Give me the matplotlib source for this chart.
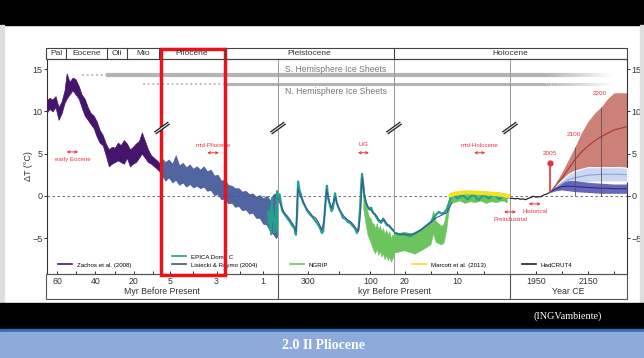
import numpy as np
import matplotlib.pyplot as plt
from matplotlib.patches import Rectangle
from matplotlib.lines import Line2D
from matplotlib.collections import LineCollection

plt.rcParams['font.family'] = ['Liberation Sans', 'DejaVu Sans']

W, H = 644, 358

# ---- data ---------------------------------------------------------------
# Zachos et al. (2008): age (Myr BP), lower / upper envelope (deg C)
zachos_age = [65.5, 63.9, 62.4, 60.8, 59.2, 57.6, 56.1, 55.0, 53.5, 51.9,
              50.3, 48.7, 47.2, 45.6, 44.0, 42.5, 40.9, 39.3, 37.8, 36.2,
              34.6, 33.0, 31.5, 29.9, 28.3, 26.8, 25.2, 23.6, 22.0, 20.5,
              18.9, 17.3, 15.8, 14.2, 12.6, 11.0, 9.5, 7.9, 6.3, 5.3]
zachos_lo = [9.8, 10.3, 10.0, 10.5, 9.0, 9.8, 11.0, 11.5, 12.0, 12.5,
             12.0, 11.5, 10.5, 9.5, 9.0, 8.5, 8.0, 7.0, 6.3, 6.0,
             4.8, 3.5, 3.8, 4.0, 4.2, 4.0, 3.8, 4.5, 3.5, 3.8,
             4.0, 4.5, 5.0, 4.5, 4.0, 3.8, 3.5, 3.2, 2.8, 3.0]
zachos_hi = [11.3, 11.6, 11.4, 11.8, 10.5, 11.2, 12.5, 14.5, 13.5, 14.0,
             13.8, 13.0, 12.0, 11.5, 10.5, 9.8, 9.5, 8.8, 7.8, 7.2,
             6.2, 5.5, 5.8, 5.7, 6.3, 6.0, 6.6, 6.2, 5.5, 5.8,
             6.2, 6.5, 7.5, 6.5, 5.5, 4.8, 4.5, 4.2, 3.8, 3.8]

# Lisiecki & Raymo (2004): Myr BP envelope, then last 400 kyr
lr04_age = [5.33, 5.2, 5.05, 4.9, 4.75, 4.6, 4.45, 4.3, 4.15, 4.0,
            3.85, 3.7, 3.55, 3.4, 3.25, 3.1, 2.95, 2.8, 2.65, 2.5,
            2.35, 2.2, 2.05, 1.9, 1.75, 1.6, 1.45, 1.3, 1.15, 1.0,
            0.85, 0.7, 0.55, 0.45, 0.36]
lr04_lo = [2.4, 1.8, 2.2, 1.6, 1.9, 1.3, 1.6, 1.1, 1.4, 1.0,
           1.2, 0.9, 1.1, 0.6, 0.7, 0.1, 0.2, -0.4, -0.3, -0.9,
           -0.8, -1.3, -1.2, -1.7, -1.6, -2.1, -2.0, -2.6, -2.6, -3.3,
           -3.4, -4.2, -4.6, -5.0, -4.6]
lr04_hi = [4.4, 4.0, 4.3, 3.8, 4.8, 3.6, 3.9, 3.4, 3.7, 3.2,
           3.5, 3.1, 3.5, 2.9, 3.1, 2.4, 2.5, 1.8, 1.9, 1.3,
           1.2, 0.9, 0.9, 0.5, 0.6, 0.2, 0.3, -0.1, 0.1, -0.3,
           0.0, -0.5, 0.2, 0.3, 0.5]
lr04_kyr = [395, 385, 375, 365, 355, 345, 337, 332, 325, 315,
            305, 295, 285, 275, 265, 255, 248, 240, 232, 225,
            217, 212, 205, 195, 185, 175, 165, 155, 145, 138,
            132, 126, 120, 112, 104, 96, 88, 80, 72, 64,
            56, 48, 40, 32, 25, 22, 20, 18, 16, 14, 12, 11]
lr04_kyr_val = [-0.3, -1.2, -2.0, -2.4, -2.9, -3.5, -4.2, 0.9, 0.0, -0.6,
                -1.5, -1.9, -2.4, -2.6, -3.2, -4.0, -3.0, 0.8, -0.6, -1.4,
                -0.6, -0.1, -1.1, -1.9, -2.4, -2.8, -3.0, -3.4, -3.9, -4.2,
                -2.0, 2.2, 0.2, -1.0, -1.5, -1.8, -2.1, -2.4, -2.9, -3.0,
                -2.8, -3.3, -3.6, -3.9, -4.1, -4.4, -4.6, -4.5, -3.6, -2.6,
                -2.0, -0.8]

# EPICA Dome C (kyr BP)
epica_kyr = [800, 770, 740, 710, 680, 650, 620, 590, 560, 530,
             500, 470, 440, 420, 405, 395, 390, 382, 374, 366,
             358, 350, 343, 338, 334, 331, 326, 322, 315, 309,
             301, 293, 285, 277, 269, 261, 255, 251, 246, 242,
             239, 235, 229, 224, 220, 216, 213, 208, 200, 194,
             188, 180, 172, 164, 156, 150, 143, 138, 133, 130,
             127, 124, 121, 116, 111, 104, 98, 92, 86, 80,
             73, 66, 60, 54, 47, 41, 35, 30, 25, 22,
             21, 20, 19, 18, 17, 16, 15, 14.5, 14.0, 13.5,
             13.0, 12.5, 12.0, 11.6, 11.2, 10.8, 10.0, 9.0, 8.0, 7.0,
             6.0, 5.0, 4.0, 3.0, 2.0, 1.0, 0.2]
epica_val = [-1.8, -3.2, -2.0, -4.0, -1.2, -4.6, -0.2, -3.0, -1.8, -4.4,
             -2.6, -4.0, -1.0, -4.2, 0.6, -0.5, 0.2, -1.7, -2.2, -2.6,
             -3.0, -3.5, -3.8, -4.6, -2.0, 1.7, 0.6, 0.2, -0.8, -1.2,
             -1.8, -2.2, -2.5, -2.9, -3.3, -3.8, -4.4, -4.2, -2.0, 0.0,
             1.2, -0.3, -1.1, -1.8, -1.5, -0.4, 0.3, -0.8, -1.6, -2.0,
             -2.6, -2.7, -3.1, -3.2, -3.6, -3.8, -4.4, -3.8, -1.5, 1.0,
             2.6, 1.6, 0.3, -0.6, -1.2, -1.6, -1.4, -2.0, -2.2, -2.6,
             -3.0, -3.2, -2.7, -3.1, -3.5, -3.5, -3.8, -4.0, -4.2, -4.3,
             -4.6, -4.5, -4.8, -4.4, -4.1, -3.6, -3.1, -2.6, -2.2, -1.9,
             -2.1, -2.0, -1.6, -0.9, -0.2, 0.2, -0.3, 0.1, -0.4, 0.2,
             -0.5, 0.1, -0.3, 0.2, -0.4, 0.1, -0.2]

# NGRIP (kyr BP), envelope
ngrip_kyr = [123, 119, 115, 110, 105, 100, 95, 90, 85, 80,
             75, 70, 65, 60, 55, 50, 45, 40, 35, 30,
             25, 22, 20, 18, 16, 15, 14.5, 14, 13, 12.5,
             12, 11.6, 11.2, 10.5, 9.5, 8.5, 7.5, 6.5, 5.5, 4.5,
             3.5, 2.5, 1.5, 0.5]
ngrip_lo = [-1.5, -2.5, -3.5, -4.5, -5.0, -5.5, -6.0, -6.5, -6.8, -6.2,
            -7.0, -6.5, -7.2, -6.8, -7.5, -7.0, -7.6, -7.2, -7.8, -7.4,
            -7.0, -6.8, -6.5, -6.9, -6.2, -5.8, -4.5, -5.5, -5.8, -5.6,
            -4.0, -2.0, -0.9, -0.8, -0.6, -0.9, -0.7, -0.8, -0.6, -0.9,
            -0.7, -0.8, -0.6, -0.8]
ngrip_hi = [1.5, 0.0, -1.0, -1.8, -2.5, -2.6, -3.2, -3.3, -3.8, -3.2,
            -4.0, -3.5, -4.2, -3.8, -4.5, -4.0, -4.6, -4.2, -5.0, -4.6,
            -4.6, -4.6, -4.3, -4.6, -3.8, -3.2, -1.8, -3.0, -3.6, -3.4,
            -2.0, -0.6, 0.3, 0.4, 0.3, 0.5, 0.2, 0.4, 0.3, 0.5,
            0.2, 0.4, 0.3, 0.2]

# Marcott et al. (2013), kyr BP
marcott_kyr = [11.3, 10.5, 9.5, 8.5, 7.5, 6.5, 5.5, 4.5, 3.5, 2.5, 1.5, 0.5, 0.1]
marcott_val = [0.05, 0.25, 0.35, 0.4, 0.4, 0.38, 0.35, 0.3, 0.25, 0.2, 0.1, 0.0, -0.05]

# HadCRUT4, year CE
hadcrut_year = [1850, 1860, 1870, 1880, 1890, 1900, 1910, 1920, 1930,
                1940, 1950, 1960, 1970, 1980, 1990, 2000, 2005]
hadcrut_val = [-0.3, -0.3, -0.35, -0.3, -0.4, -0.35, -0.45, -0.3, -0.2,
               -0.05, -0.15, -0.1, -0.1, 0.1, 0.2, 0.35, 0.45]

# projections
proj_year = [2005, 2025, 2050, 2075, 2100, 2125, 2150, 2175, 2200, 2225, 2250, 2275, 2300]
rcp85_lo = [0.4, 0.8, 1.3, 2.0, 2.5, 3.0, 3.2, 3.3, 3.4, 3.4, 3.4, 3.4, 3.4]
rcp85_hi = [0.5, 1.5, 2.8, 4.3, 5.8, 7.5, 8.8, 9.8, 10.5, 11.5, 12.2, 12.2, 12.2]
rcp85_mid = [0.45, 1.2, 2.1, 3.2, 4.3, 5.2, 5.9, 6.5, 7.0, 7.4, 7.8, 8.0, 8.2]
rcp45_lo = [0.4, 0.7, 1.0, 1.2, 1.3, 1.5, 1.6, 1.7, 1.7, 1.7, 1.7, 1.7, 1.7]
rcp45_hi = [0.5, 1.2, 1.9, 2.6, 3.0, 3.2, 3.4, 3.4, 3.4, 3.4, 3.4, 3.4, 3.3]
rcp45_mid = [0.45, 0.95, 1.45, 1.9, 2.15, 2.3, 2.45, 2.5, 2.55, 2.55, 2.55, 2.55, 2.5]
rcp26_lo = [0.4, 0.6, 0.7, 0.6, 0.5, 0.45, 0.4, 0.35, 0.3, 0.3, 0.3, 0.3, 0.3]
rcp26_hi = [0.5, 1.1, 1.6, 1.8, 1.8, 1.7, 1.6, 1.55, 1.5, 1.45, 1.4, 1.4, 1.4]
rcp26_mid = [0.45, 0.85, 1.1, 1.15, 1.1, 1.05, 1.0, 0.95, 0.9, 0.9, 0.85, 0.85, 0.85]
stem_year, stem_top = 2005, 3.9

# ice sheets (Myr BP where the bars start)
s_ice_dotted, s_ice_solid, s_ice_level = 47.2, 34.6, 14.3
n_ice_dotted, n_ice_solid, n_ice_level = 15.2, 2.7, 13.2
ice_fade = (1990, 2250)

epochs = ['Pal', 'Eocene', 'Oli', 'Mio', 'Pliocene', 'Pleistocene', 'Holocene']
epoch_px = [46.5, 66, 107, 127, 159, 225, 394, 627]

# ---- colours ------------------------------------------------------------
PURPLE, BLUE, TEAL, GREEN, YELLOW = '#45156b', '#3e5497', '#23a08e', '#6cc45c', '#f5e21f'
RED = '#e8333a'
ICE = '#b4b4b4'

fig = plt.figure(figsize=(W / 100, H / 100), dpi=100)


def frac(x0, y0, x1, y1):
    return [x0 / W, 1 - y1 / H, (x1 - x0) / W, (y1 - y0) / H]


TOP, BOT = 59, 274
edges = [46.5, 162, 278, 394, 510, 627]
xlims = [(65.5, 5.3), (5.34, 0.36), (395, 25), (22, 0), (1850, 2300)]
majors = [[60, 40, 20], [5, 3, 1], [300, 100], [20, 10], [1950, 2150]]
minors = [[50, 30, 10], [4, 2], [200], [15, 5], [2050, 2250]]

axs = []
for i in range(5):
    ax = fig.add_axes(frac(edges[i], TOP, edges[i + 1], BOT))
    ax.set_xlim(*xlims[i])
    ax.set_ylim(-9.25, 16.2)
    ax.set_xticks(majors[i])
    ax.set_xticks(minors[i], minor=True)
    ax.tick_params(axis='x', which='both', direction='in', length=2.5, width=0.7,
                   colors='#333', labelsize=6.3, pad=1.8)
    for s in ('top', 'bottom'):
        ax.spines[s].set_color('#444')
        ax.spines[s].set_linewidth(0.8)
    ax.spines['right'].set_visible(i == 4)
    ax.spines['right'].set_color('#333')
    if i == 0:
        ax.spines['left'].set_color('#333')
    elif i == 1:
        ax.spines['left'].set_visible(False)
    else:
        ax.spines['left'].set_color('#999')
        ax.spines['left'].set_linewidth(0.7)
    ax.axhline(0, color='#555', lw=0.6, ls=(0, (3, 3)), zorder=1)
    axs.append(ax)

ax_a, ax_b, ax_c, ax_d, ax_e = axs
for ax in axs:
    ax.set_yticks([-5, 0, 5, 10, 15])
    ax.tick_params(axis='y', direction='out', length=2, width=0.7, colors='#333',
                   labelsize=6.5, pad=1)
for ax in (ax_b, ax_c, ax_d):
    ax.tick_params(axis='y', left=False, labelleft=False)
ax_e.yaxis.tick_right()

# ice sheets
dot = (0, (1.2, 1.6))
for ax in (ax_a, ax_b):
    ax.plot([s_ice_dotted, s_ice_solid], [s_ice_level] * 2, color=ICE, lw=1.2, ls=dot)
    ax.plot([s_ice_solid, 0], [s_ice_level] * 2, color=ICE, lw=3, solid_capstyle='butt')
    ax.plot([n_ice_dotted, n_ice_solid], [n_ice_level] * 2, color=ICE, lw=1.2, ls=dot)
    ax.plot([n_ice_solid, 0], [n_ice_level] * 2, color=ICE, lw=2.2, solid_capstyle='butt')
for ax in (ax_c, ax_d):
    ax.axhline(s_ice_level, color=ICE, lw=3)
    ax.axhline(n_ice_level, color=ICE, lw=2.2)
ax_e.plot([1850, ice_fade[0]], [s_ice_level] * 2, color=ICE, lw=3, solid_capstyle='butt')
ax_e.plot([1850, ice_fade[0]], [n_ice_level] * 2, color=ICE, lw=2.2, solid_capstyle='butt')
fx = np.linspace(ice_fade[0], ice_fade[1], 41)
alphas = np.linspace(1, 0, 40)
for lvl, lw in ((s_ice_level, 3), (n_ice_level, 2.2)):
    segs = [[(fx[k], lvl), (fx[k + 1], lvl)] for k in range(40)]
    cols = [(0.706, 0.706, 0.706, a) for a in alphas]
    ax_e.add_collection(LineCollection(segs, colors=cols, linewidths=lw))
ax_c.text(373, 15.0, 'S. Hemisphere Ice Sheets', color='#777', fontsize=6.2, va='center')
ax_c.text(373, 12.3, 'N. Hemisphere Ice Sheets', color='#777', fontsize=6.2, va='center')

# records
ax_a.fill_between(zachos_age, zachos_lo, zachos_hi, color=PURPLE, lw=0.5, zorder=3)
ax_b.fill_between(lr04_age, lr04_lo, lr04_hi, color=BLUE, lw=0.5, alpha=0.9, zorder=3)
ax_b.plot(np.array(epica_kyr) / 1000, epica_val, color=TEAL, lw=1.0, zorder=4)
for ax in (ax_c, ax_d):
    ax.fill_between(ngrip_kyr, ngrip_lo, ngrip_hi, color=GREEN, lw=0.4, zorder=3)
    ax.plot(epica_kyr, epica_val, color=TEAL, lw=1.6, zorder=4)
    ax.plot(lr04_kyr, lr04_kyr_val, color=BLUE, lw=0.8, zorder=5)
ax_d.plot(marcott_kyr, marcott_val, color=YELLOW, lw=3, zorder=6, solid_capstyle='round')
ax_e.plot(hadcrut_year, hadcrut_val, color='#222', lw=0.9, zorder=5)

# projections
ax_e.fill_between(proj_year, rcp85_lo, rcp85_hi, color='#c46a60', alpha=0.85, lw=0, zorder=2)
ax_e.fill_between(proj_year, rcp45_lo, rcp45_hi, facecolor='#c9d7f0', edgecolor='white',
                  lw=0.8, zorder=3)
ax_e.fill_between(proj_year, rcp26_lo, rcp26_hi, color='#5656b4', alpha=0.9, lw=0, zorder=4)
ax_e.plot(proj_year, rcp85_mid, color='#a8382e', lw=0.8, zorder=5)
ax_e.plot(proj_year, rcp45_mid, color='#8aa4d6', lw=0.8, zorder=5)
ax_e.plot(proj_year, rcp26_mid, color='#2c2c88', lw=0.8, zorder=5)
for yr in (2100, 2200):
    k = proj_year.index(yr)
    ax_e.vlines(yr, 0, rcp85_hi[k], color='#555', lw=0.6, zorder=6)
ax_e.plot([stem_year, stem_year], [hadcrut_val[-1], stem_top], color=RED, lw=1.2, zorder=7)
ax_e.plot(stem_year, stem_top, 'o', color=RED, ms=3.5, zorder=7)
ax_e.text(stem_year, 5.0, '2005', color=RED, fontsize=4.6, ha='center', va='center')
ax_e.text(2095, 7.3, '2100', color=RED, fontsize=4.6, ha='center', va='center')
ax_e.text(2195, 12.1, '2200', color=RED, fontsize=4.6, ha='center', va='center')

# red period markers


def period(ax, a0, a1, y, label, ty):
    ax.annotate('', xy=(a1, y), xytext=(a0, y), annotation_clip=False,
                arrowprops=dict(arrowstyle='<->', color=RED, lw=0.7,
                                shrinkA=0, shrinkB=0, mutation_scale=4))
    ax.text((a0 + a1) / 2, ty, label, color=RED, fontsize=4.4, ha='center',
            va='center', clip_on=False)


period(ax_a, 55.0, 49.0, 5.2, 'early Eocene', 4.3)
period(ax_b, 3.4, 2.9, 5.1, 'mid-Pliocene', 6.0)
period(ax_c, 140, 105, 5.1, 'LIG', 6.1)
period(ax_d, 6.8, 4.7, 5.1, 'mid-Holocene', 6.0)
period(ax_e, 1827, 1873, -1.9, 'Preindustrial', -2.8)
period(ax_e, 1922, 1968, -0.95, 'Historical', -1.9)

# legends


def legend(ax, entries, fx, fy):
    hs = [Line2D([], [], color=c, lw=1.2) for c, _ in entries]
    ax.legend(hs, [t for _, t in entries], loc='lower left', bbox_to_anchor=(fx, fy),
              frameon=False, fontsize=4.4, handlelength=2.3, handletextpad=0.8,
              borderpad=0, borderaxespad=0, labelspacing=0.45)


legend(ax_a, [(PURPLE, 'Zachos et al. (2008)')], 0.10, 0.03)
legend(ax_b, [(TEAL, 'EPICA Dome C'), (BLUE, 'Lisiecki & Raymo (2004)')], 0.086, 0.03)
legend(ax_c, [(GREEN, 'NGRIP')], 0.10, 0.03)
legend(ax_d, [(YELLOW, 'Marcott et al. (2013)')], 0.155, 0.03)
legend(ax_e, [('#222', 'HadCRUT4')], 0.10, 0.03)

# ---- page furniture -----------------------------------------------------
ov = fig.add_axes([0, 0, 1, 1], zorder=10)
ov.set_xlim(0, W)
ov.set_ylim(H, 0)
ov.axis('off')

ov.add_patch(Rectangle((0, 0), W, 25, color='black'))
ov.add_patch(Rectangle((0, 25), 4, 278, color='#dedede'))
ov.add_patch(Rectangle((640, 25), 4, 278, color='#dedede'))
ov.add_patch(Rectangle((0, 303), W, 26, color='black'))
ov.add_patch(Rectangle((0, 329), W, 3, color='#2f6db5'))
ov.add_patch(Rectangle((0, 332), W, 26, color='#8eaadb'))
ov.text(568, 316, '(INGVambiente)', color='white', fontsize=7.3,
        family='Liberation Serif', ha='center', va='center')
ov.text(324, 345.5, '2.0 Il Pliocene', color='white', fontsize=10, weight='bold',
        family='Liberation Serif', ha='center', va='center')

# epoch header
ov.add_patch(Rectangle((46.5, 48), 580.5, 11, fill=False, ec='#444', lw=0.8))
for k, name in enumerate(epochs):
    if k > 0:
        ov.plot([epoch_px[k]] * 2, [48, 59], color='#444', lw=0.8)
    ov.text((epoch_px[k] + epoch_px[k + 1]) / 2, 53.8, name, fontsize=6,
            color='#333', ha='center', va='center')

# bottom box
ov.add_patch(Rectangle((46.5, 274), 580.5, 24.5, fill=False, ec='#555', lw=0.8))
for bx in (278, 510):
    ov.plot([bx, bx], [274, 298.5], color='#555', lw=0.8)
ov.text(162, 291.5, 'Myr Before Present', fontsize=6.3, color='#333', ha='center', va='center')
ov.text(394, 291.5, 'kyr Before Present', fontsize=6.3, color='#333', ha='center', va='center')
ov.text(568.5, 291.5, 'Year CE', fontsize=6.3, color='#333', ha='center', va='center')
ov.text(28.5, 166, 'ΔT (°C)', fontsize=6.5, color='#333', rotation=90,
        ha='center', va='center')

# axis breaks
for bx in edges[1:5]:
    ov.plot([bx - 7, bx + 7], [133, 123], color='#222', lw=2.6, solid_capstyle='butt')
    ov.plot([bx - 7, bx + 7], [133, 123], color='white', lw=0.7, solid_capstyle='butt')

# highlight box around the Pliocene
ov.add_patch(Rectangle((161, 49), 64, 226, fill=False, ec='#e8141b', lw=2.5))

fig.savefig('out.png', dpi=100, facecolor='white')
